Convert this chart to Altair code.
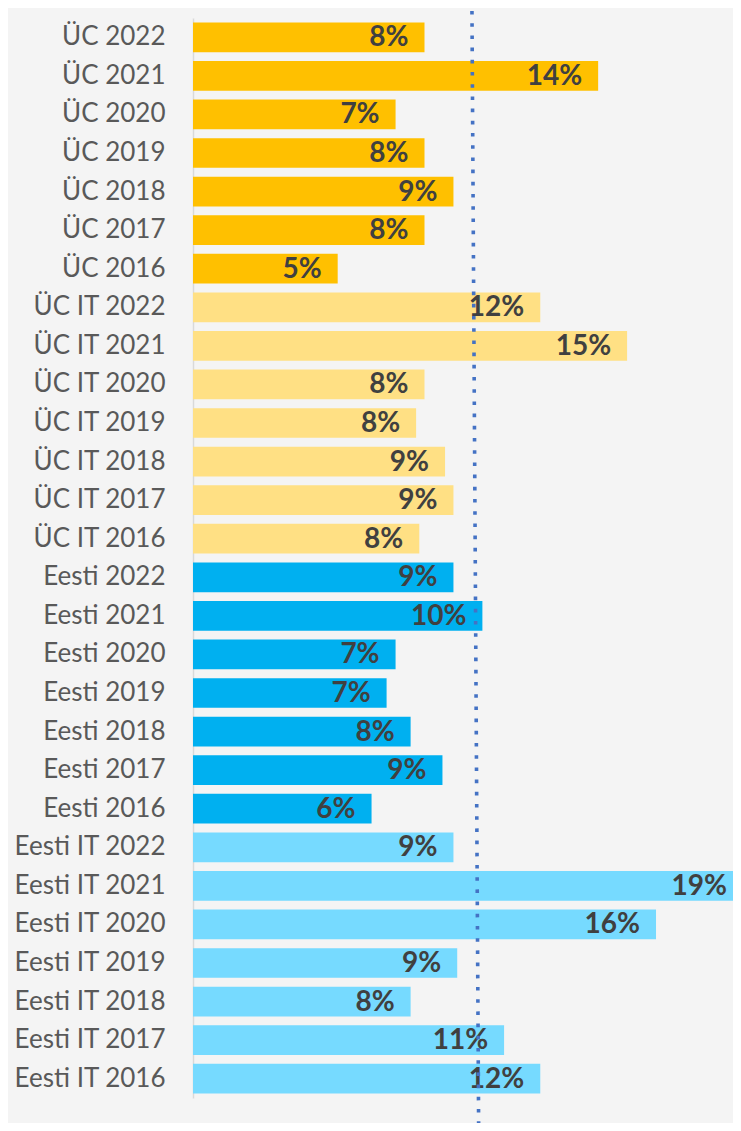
import altair as alt
import pandas as pd

groups = ["ÜC", "ÜC IT", "Eesti", "Eesti IT"]
years = [2022, 2021, 2020, 2019, 2018, 2017, 2016]
uc = [8.0, 14.0, 7.0, 8.0, 9.0, 8.0, 5.0]
uc_it = [12.0, 15.0, 8.0, 7.71, 8.71, 9.0, 7.82]
eesti = [9.0, 10.0, 7.0, 6.69, 7.52, 8.62, 6.17]
eesti_it = [9.0, 19.0, 16.0, 9.13, 7.52, 10.75, 12.0]
colors = ["#FFC000", "#FFE084", "#00B0F0", "#76DAFF"]
avg_line_top = [9.64]
avg_line_bottom = [9.87]
x_max = 18.66

rows = []
for g, vals in zip(groups, [uc, uc_it, eesti, eesti_it]):
    for yr, v in zip(years, vals):
        rows.append({"cat": f"{g} {yr}", "group": g, "value": v})
df = pd.DataFrame(rows)
order = list(df["cat"])

x_scale = alt.Scale(domain=[0, x_max], nice=False, zero=True)
y_enc = alt.Y(
    "cat:N",
    sort=order,
    title=None,
    scale=alt.Scale(paddingInner=0.23, paddingOuter=0.115),
    axis=alt.Axis(
        labelFont="Lato",
        labelFontSize=26,
        labelColor="#595959",
        labelPadding=28,
        labelLimit=300,
        ticks=False,
        domainColor="#D9D9D9",
        domainWidth=1.5,
        grid=False,
    ),
)

base = alt.Chart(df)
bars = base.mark_bar(clip=True).encode(
    x=alt.X("value:Q", scale=x_scale, axis=None),
    y=y_enc,
    color=alt.Color("group:N", scale=alt.Scale(domain=groups, range=colors), legend=None),
)
labels = base.transform_calculate(
    label="format(datum.value / 100, '.0%')",
).mark_text(
    align="right", baseline="middle", dx=-16, dy=1,
    font="Lato", fontWeight="bold", fontSize=28, color="#404040",
).encode(
    x=alt.X("value:Q", scale=x_scale, axis=None),
    y=alt.Y("cat:N", sort=order),
    text="label:N",
)

line_df = pd.DataFrame({"x_top": avg_line_top, "x_bottom": avg_line_bottom})
avg_rule = alt.Chart(line_df).mark_rule(
    color="#4472C4", strokeWidth=3.6, strokeDash=[3.6, 8.6], strokeCap="butt", clip=False
).encode(
    x=alt.X("x_top:Q", scale=x_scale, axis=None),
    x2="x_bottom:Q",
    y=alt.value(-7),
    y2=alt.value(1105),
)

chart = alt.layer(bars, labels, avg_rule).properties(
    width=540,
    height=1080,
    padding={"left": 185, "top": 10, "right": 0, "bottom": 25},
    autosize=alt.AutoSizeParams(type="none"),
    background="#F4F4F4",
).configure_view(stroke=None)

chart.save("out.html", embed_options={"renderer": "svg", "actions": False})
